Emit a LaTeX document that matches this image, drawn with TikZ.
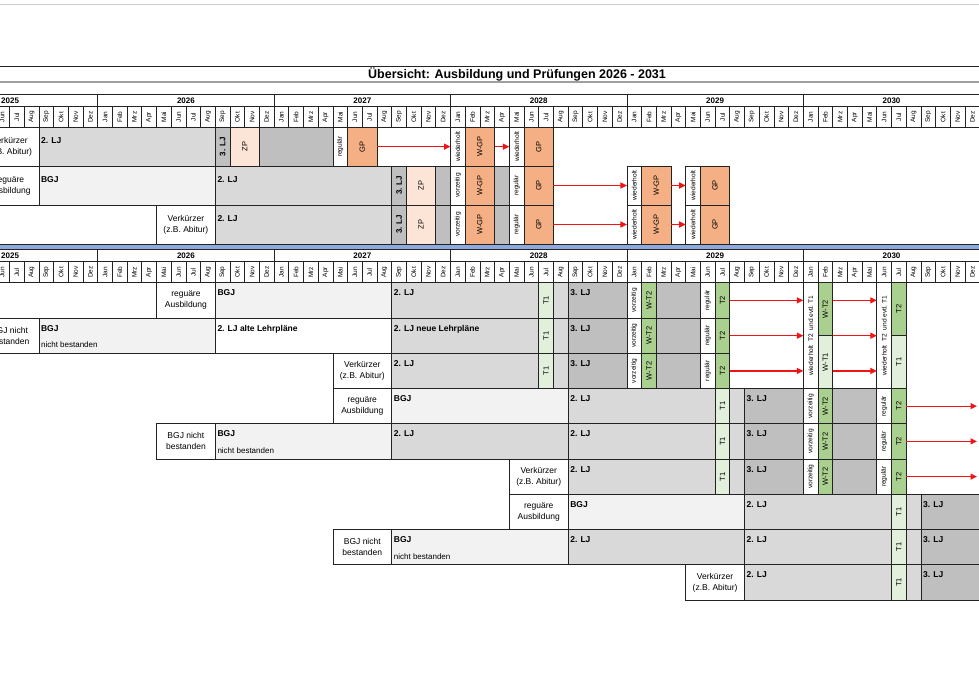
\documentclass[tikz,border=0pt]{standalone}
\usepackage{fontspec}
\setmainfont{Liberation Sans}
\usetikzlibrary{arrows.meta}
\definecolor{BgjCol}{RGB}{242,242,242}
\definecolor{LjCol}{RGB}{217,217,217}
\definecolor{DarkCol}{RGB}{191,191,191}
\definecolor{ZpCol}{RGB}{252,228,214}
\definecolor{GpCol}{RGB}{244,176,132}
\definecolor{TzCol}{RGB}{169,208,142}
\definecolor{TeCol}{RGB}{226,239,218}
\definecolor{BandCol}{RGB}{142,169,219}
\definecolor{RuleCol}{RGB}{35,35,35}
\definecolor{ArrCol}{RGB}{240,20,20}
\tikzset{
  cellbox/.style={draw=RuleCol, line width=0.8pt, fill=white, inner sep=0pt, outer sep=0pt},
  hdrbox/.style={line width=0.7pt},
  ljtext/.style={anchor=base west, inner sep=0pt, font=\fontsize{8.5}{10}\selectfont\bfseries},
  subtext/.style={anchor=base west, inner sep=0pt, font=\fontsize{8}{10}\selectfont},
  rowlab/.style={align=center, inner sep=0pt, font=\fontsize{8.5}{11}\selectfont},
  vtiny/.style={rotate=90, inner sep=0pt, font=\fontsize{6.6}{7}\selectfont},
  vsmall/.style={rotate=90, inner sep=0pt, font=\fontsize{7.5}{8}\selectfont},
  vbold/.style={rotate=90, inner sep=0pt, font=\fontsize{8}{9}\selectfont\bfseries},
  montext/.style={rotate=90, inner sep=0pt, font=\fontsize{6.5}{7}\selectfont},
  yeartext/.style={inner sep=0pt, font=\fontsize{8}{9}\selectfont\bfseries},
  titletext/.style={inner sep=0pt, font=\fontsize{12.5}{14}\selectfont\bfseries},
  redarr/.style={draw=ArrCol, line width=1.3pt, -{Triangle[length=6.5pt,width=6pt]}}
}
% month index 0 = Jan 2026, one month = 14.7 units
\newcommand\pcell[6]{%
  \pgfmathsetmacro\cw{14.7*((#3)-(#2))}%
  \pgfmathsetmacro\ch{(#5)-(#4)}%
  \node[cellbox,#6,minimum width=\cw pt,minimum height=\ch pt] (#1)
    at ({97.7+14.7*((#2)+(#3))/2},{((#4)+(#5))/2}) {};}
\newcommand\vcell[8]{\pcell{#1}{#2}{#3}{#4}{#5}{#6}\node[#7] (#1t) at (#1.center) {#8};}
\newcommand\lcell[7]{\pcell{#1}{#2}{#3}{#4}{#5}{#6}\node[ljtext] (#1t) at ([xshift=2pt,yshift=-\ljdrop]#1.north west) {#7};}
\newcommand\ccell[7]{\pcell{#1}{#2}{#3}{#4}{#5}{#6}\node[rowlab] (#1t) at (#1.center) {#7};}
\newcommand\ljdrop{16pt}
\newcommand\header[4]{%
  \foreach \yr [count=\yi from -1] in {2025,...,2030}{%
    \pcell{#1y\yr}{12*\yi}{12*\yi+12}{#2}{#3}{hdrbox}
    \foreach \mon [count=\mo from 0] in {Jan,Feb,Mrz,Apr,Mai,Jun,Jul,Aug,Sep,Okt,Nov,Dez}{%
      \pgfmathtruncatemacro\mnum{12*\yi+\mo}
      \ifnum\mnum>-8
        \vcell{#1m\mnum}{\mnum}{\mnum+1}{#3}{#4}{hdrbox}{montext}{\mon}
      \fi
    }
  }
  \foreach \yr in {2026,...,2030}{%
    \node[yeartext] (#1y\yr t) at (#1y\yr.center) {\yr};
  }
  \node[yeartext,anchor=west] (#1y2025t) at (1,{(#2+#3)/2}) {2025};
}

\begin{document}
\begin{tikzpicture}[x=1pt,y=-1pt]
  \useasboundingbox[fill=white] (0,0) rectangle (979,678);
  \draw[gray!40, line width=0.8pt] (0,4) -- (979,4);
  \draw[RuleCol, line width=1pt] (0,66) -- (979,66);
  \draw[gray!75, line width=2pt] (0,82) -- (979,82);
  \node[titletext] (title) at (517,74.5) {Übersicht: Ausbildung und Prüfungen 2026 - 2031};

  % oberer Block
  \header{ha}{94.3}{106.7}{127.3}
  \ccell{a1a}{-8}{-4}{127.3}{166}{}{Verkürzer\\(z.B. Abitur)}
  \lcell{a1b}{-4}{8}{127.3}{166}{fill=LjCol}{2. LJ}
  \vcell{a1c}{8}{9}{127.3}{166}{fill=DarkCol}{vbold}{3. LJ}
  \vcell{a1d}{9}{11}{127.3}{166}{fill=ZpCol}{vsmall}{ZP}
  \pcell{a1e}{11}{16}{127.3}{166}{fill=DarkCol}
  \vcell{a1f}{16}{17}{127.3}{166}{}{vtiny}{regulär}
  \vcell{a1g}{17}{19}{127.3}{166}{fill=GpCol}{vsmall}{GP}
  \vcell{a1h}{24}{25}{127.3}{166}{}{vtiny}{wiederholt}
  \vcell{a1i}{25}{27}{127.3}{166}{fill=GpCol}{vsmall}{W-GP}
  \vcell{a1j}{28}{29}{127.3}{166}{}{vtiny}{wiederholt}
  \vcell{a1k}{29}{31}{127.3}{166}{fill=GpCol}{vsmall}{GP}
  \draw[redarr] (a1g.east) -- (a1h.west);
  \draw[redarr] (a1i.east) -- (a1j.west);

  \ccell{a2a}{-8}{-4}{166}{205}{}{reguäre\\Ausbildung}
  \lcell{a2b}{-4}{8}{166}{205}{fill=BgjCol}{BGJ}
  \ccell{a3a}{4}{8}{205}{244}{}{Verkürzer\\(z.B. Abitur)}
  \foreach \rw/\yt/\yb in {2/166/205,3/205/244}{
    \lcell{a\rw c}{8}{20}{\yt}{\yb}{fill=LjCol}{2. LJ}
    \vcell{a\rw d}{20}{21}{\yt}{\yb}{fill=DarkCol}{vbold}{3. LJ}
    \vcell{a\rw e}{21}{23}{\yt}{\yb}{fill=ZpCol}{vsmall}{ZP}
    \pcell{a\rw f}{23}{24}{\yt}{\yb}{fill=DarkCol}
    \vcell{a\rw g}{24}{25}{\yt}{\yb}{}{vtiny}{vorzeitig}
    \vcell{a\rw h}{25}{27}{\yt}{\yb}{fill=GpCol}{vsmall}{W-GP}
    \pcell{a\rw i}{27}{28}{\yt}{\yb}{fill=DarkCol}
    \vcell{a\rw j}{28}{29}{\yt}{\yb}{}{vtiny}{regulär}
    \vcell{a\rw k}{29}{31}{\yt}{\yb}{fill=GpCol}{vsmall}{GP}
    \vcell{a\rw m}{36}{37}{\yt}{\yb}{}{vtiny}{wiederholt}
    \vcell{a\rw n}{37}{39}{\yt}{\yb}{fill=GpCol}{vsmall}{W-GP}
    \vcell{a\rw o}{40}{41}{\yt}{\yb}{}{vtiny}{wiederholt}
    \vcell{a\rw p}{41}{43}{\yt}{\yb}{fill=GpCol}{vsmall}{GP}
    \draw[redarr] (a\rw k.east) -- (a\rw m.west);
    \draw[redarr] (a\rw n.east) -- (a\rw o.west);
  }

  \draw[RuleCol, line width=0.8pt, fill=BandCol] (-2,244.3) rectangle (981,249);

  % unterer Block
  \renewcommand\ljdrop{13pt}
  \header{hb}{249}{261.7}{282.7}
  \ccell{b1a}{4}{8}{282.7}{318}{}{reguäre\\Ausbildung}
  \lcell{b1b}{8}{20}{282.7}{318}{fill=BgjCol}{BGJ}
  \ccell{b2a}{-8}{-4}{318}{353.3}{}{BGJ nicht\\bestanden}
  \lcell{b2b}{-4}{8}{318}{353.3}{fill=BgjCol}{BGJ}
  \node[subtext] (b2n) at ([xshift=2pt,yshift=-29.5pt]b2b.north west) {nicht bestanden};
  \lcell{b2z}{8}{20}{318}{353.3}{}{2. LJ alte Lehrpläne}
  \ccell{b3a}{16}{20}{353.3}{388.5}{}{Verkürzer\\(z.B. Abitur)}
  \foreach \rw/\yt/\yb/\txt in {1/282.7/318/{2. LJ},2/318/353.3/{2. LJ neue Lehrpläne},3/353.3/388.5/{2. LJ}}{
    \lcell{b\rw c}{20}{30}{\yt}{\yb}{fill=LjCol}{\txt}
    \vcell{b\rw d}{30}{31}{\yt}{\yb}{fill=TeCol}{vsmall}{T1}
    \pcell{b\rw e}{31}{32}{\yt}{\yb}{fill=LjCol}
    \lcell{b\rw f}{32}{36}{\yt}{\yb}{fill=DarkCol}{3. LJ}
    \vcell{b\rw g}{36}{37}{\yt}{\yb}{}{vtiny}{vorzeitig}
    \vcell{b\rw h}{37}{38}{\yt}{\yb}{fill=TzCol}{vsmall}{W-T2}
    \pcell{b\rw i}{38}{41}{\yt}{\yb}{fill=DarkCol}
    \vcell{b\rw j}{41}{42}{\yt}{\yb}{}{vtiny}{regulär}
    \vcell{b\rw k}{42}{43}{\yt}{\yb}{fill=TzCol}{vsmall}{T2}
  }
  \vcell{wh1}{48}{49}{282.7}{388.5}{}{vtiny}{wiederholt\ \ T2\ \ und evtl.\ T1}
  \vcell{wt2}{49}{50}{282.7}{335.6}{fill=TzCol}{vsmall}{W-T2}
  \vcell{wt1}{49}{50}{335.6}{388.5}{fill=TeCol}{vsmall}{W-T1}
  \vcell{wh2}{53}{54}{282.7}{388.5}{}{vtiny}{wiederholt\ \ T2\ \ und evtl.\ T1}
  \vcell{tz}{54}{55}{282.7}{335.6}{fill=TzCol}{vsmall}{T2}
  \vcell{te}{54}{55}{335.6}{388.5}{fill=TeCol}{vsmall}{T1}
  \foreach \rw in {1,2,3}{
    \draw[redarr] (b\rw k.east) -- (b\rw k.east -| wh1.west);
    \draw[redarr] (wt2.east |- b\rw k.east) -- (wh2.west |- b\rw k.east);
  }

  \ccell{b4a}{16}{20}{388.5}{423.8}{}{reguäre\\Ausbildung}
  \lcell{b4b}{20}{32}{388.5}{423.8}{fill=BgjCol}{BGJ}
  \ccell{b5a}{4}{8}{423.8}{459}{}{BGJ nicht\\bestanden}
  \lcell{b5b}{8}{20}{423.8}{459}{fill=BgjCol}{BGJ}
  \node[subtext] (b5n) at ([xshift=2pt,yshift=-29.5pt]b5b.north west) {nicht bestanden};
  \lcell{b5z}{20}{32}{423.8}{459}{fill=LjCol}{2. LJ}
  \ccell{b6a}{28}{32}{459}{494.3}{}{Verkürzer\\(z.B. Abitur)}
  \foreach \rw/\yt/\yb in {4/388.5/423.8,5/423.8/459,6/459/494.3}{
    \lcell{b\rw c}{32}{42}{\yt}{\yb}{fill=LjCol}{2. LJ}
    \vcell{b\rw d}{42}{43}{\yt}{\yb}{fill=TeCol}{vsmall}{T1}
    \pcell{b\rw e}{43}{44}{\yt}{\yb}{fill=LjCol}
    \lcell{b\rw f}{44}{48}{\yt}{\yb}{fill=DarkCol}{3. LJ}
    \vcell{b\rw g}{48}{49}{\yt}{\yb}{}{vtiny}{vorzeitig}
    \vcell{b\rw h}{49}{50}{\yt}{\yb}{fill=TzCol}{vsmall}{W-T2}
    \pcell{b\rw i}{50}{53}{\yt}{\yb}{fill=DarkCol}
    \vcell{b\rw j}{53}{54}{\yt}{\yb}{}{vtiny}{regulär}
    \vcell{b\rw k}{54}{55}{\yt}{\yb}{fill=TzCol}{vsmall}{T2}
    \coordinate (e\rw) at (977,{(\yt+\yb)/2});
    \draw[redarr] (b\rw k.east) -- (e\rw);
  }

  \ccell{b7a}{28}{32}{494.3}{529.5}{}{reguäre\\Ausbildung}
  \lcell{b7b}{32}{44}{494.3}{529.5}{fill=BgjCol}{BGJ}
  \ccell{b8a}{16}{20}{529.5}{564.8}{}{BGJ nicht\\bestanden}
  \lcell{b8b}{20}{32}{529.5}{564.8}{fill=BgjCol}{BGJ}
  \node[subtext] (b8n) at ([xshift=2pt,yshift=-29.5pt]b8b.north west) {nicht bestanden};
  \lcell{b8z}{32}{44}{529.5}{564.8}{fill=LjCol}{2. LJ}
  \ccell{b9a}{40}{44}{564.8}{600}{}{Verkürzer\\(z.B. Abitur)}
  \foreach \rw/\yt/\yb in {7/494.3/529.5,8/529.5/564.8,9/564.8/600}{
    \lcell{b\rw c}{44}{54}{\yt}{\yb}{fill=LjCol}{2. LJ}
    \vcell{b\rw d}{54}{55}{\yt}{\yb}{fill=TeCol}{vsmall}{T1}
    \pcell{b\rw e}{55}{56}{\yt}{\yb}{fill=LjCol}
    \lcell{b\rw f}{56}{60}{\yt}{\yb}{fill=DarkCol}{3. LJ}
  }
\end{tikzpicture}
\end{document}
